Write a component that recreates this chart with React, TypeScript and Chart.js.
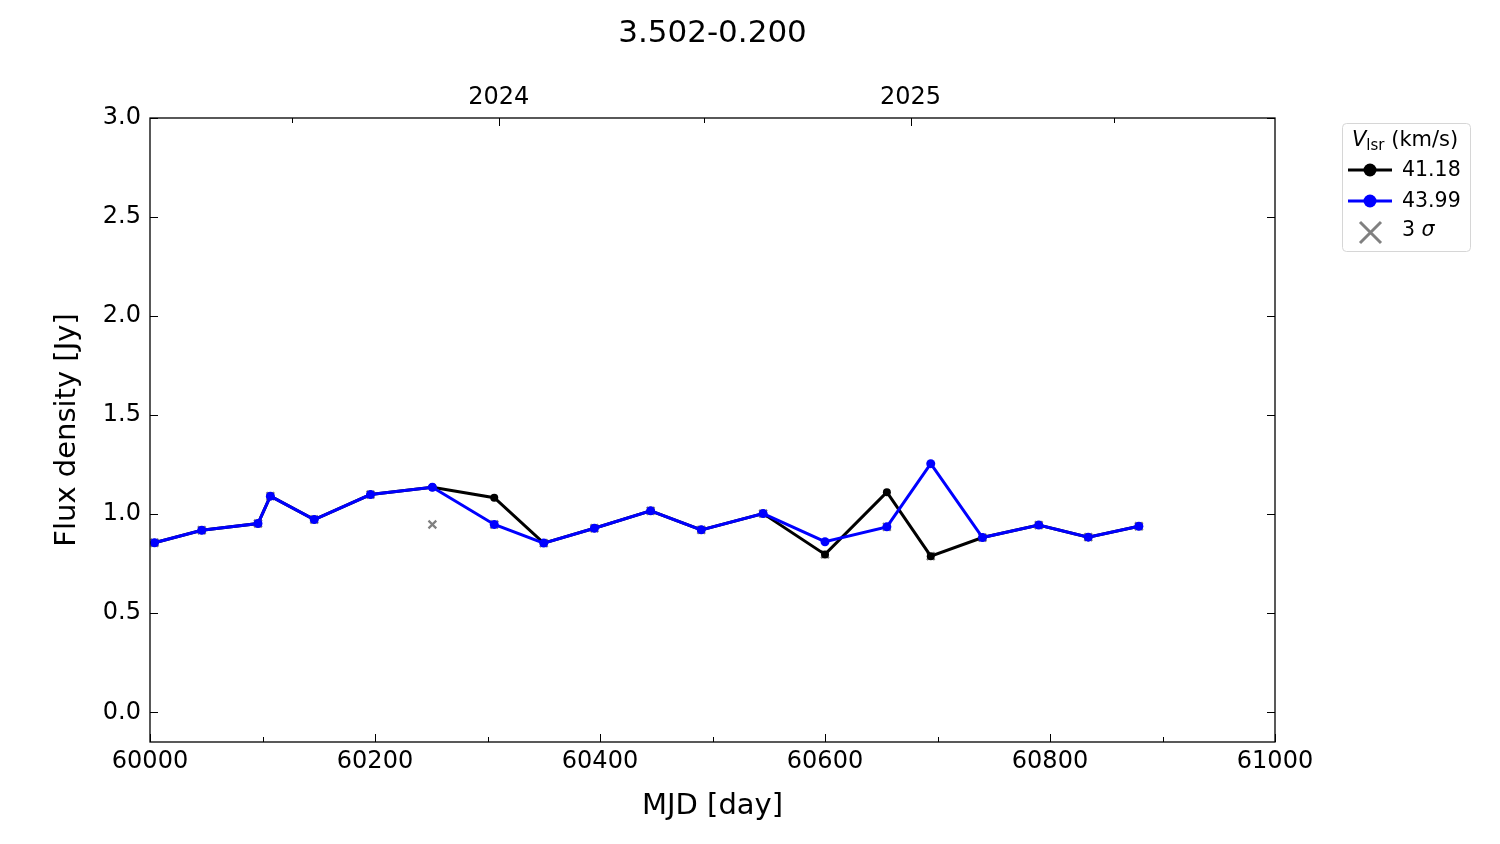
import { useEffect, useRef } from 'react';
import { Chart, registerables } from 'chart.js';

Chart.register(...registerables);

// epochs (MJD) and flux densities [Jy] per velocity channel
const mjd = [60004, 60046, 60096, 60107, 60146, 60196, 60251, 60306, 60350, 60395, 60445, 60490, 60545, 60600, 60655, 60694, 60740, 60790, 60834, 60879];
const flux4118 = [0.856, 0.919, 0.953, 1.091, 0.973, 1.099, 1.136, 1.083, 0.854, 0.929, 1.017, 0.921, 1.003, 0.797, 1.111, 0.788, 0.882, 0.945, 0.884, 0.939];
const flux4399 = [0.856, 0.919, 0.953, 1.091, 0.973, 1.099, 1.136, 0.948, 0.854, 0.929, 1.017, 0.921, 1.003, 0.861, 0.936, 1.255, 0.882, 0.945, 0.884, 0.939];
const sigma3 = [0.856, 0.919, 0.953, 1.091, 0.973, 1.099, 0.948, 0.948, 0.854, 0.929, 1.017, 0.921, 1.003, 0.797, 0.936, 0.788, 0.882, 0.945, 0.884, 0.939];

const xTicks = [60000, 60200, 60400, 60600, 60800, 61000];
const xMinorTicks = [60100, 60300, 60500, 60700, 60900];
const yTicks = [0, 0.5, 1.0, 1.5, 2.0, 2.5, 3.0];
const yearTicks = [60310, 60676];
const yearLabels = ['2024', '2025'];
const halfYearTicks = [60126, 60492, 60857];

const FONT = '"DejaVu Sans", sans-serif';

const pts = (ys: number[]) => mjd.map((x, i) => ({ x, y: ys[i] }));

const frame = {
  id: 'frame',
  afterDraw(chart: Chart) {
    const { ctx, chartArea: a, scales } = chart;
    const x = scales.x;
    const y = scales.y;
    ctx.save();
    ctx.strokeStyle = '#000';
    ctx.lineWidth = 1.3;
    ctx.strokeRect(a.left, a.top, a.right - a.left, a.bottom - a.top);

    ctx.lineWidth = 1;
    ctx.beginPath();
    xTicks.forEach((v) => {
      const px = Math.round(x.getPixelForValue(v)) + 0.5;
      ctx.moveTo(px, a.bottom);
      ctx.lineTo(px, a.bottom - 8);
    });
    xMinorTicks.forEach((v) => {
      const px = Math.round(x.getPixelForValue(v)) + 0.5;
      ctx.moveTo(px, a.bottom);
      ctx.lineTo(px, a.bottom - 5);
    });
    yearTicks.forEach((v) => {
      const px = Math.round(x.getPixelForValue(v)) + 0.5;
      ctx.moveTo(px, a.top);
      ctx.lineTo(px, a.top + 8);
    });
    halfYearTicks.forEach((v) => {
      const px = Math.round(x.getPixelForValue(v)) + 0.5;
      ctx.moveTo(px, a.top);
      ctx.lineTo(px, a.top + 5);
    });
    yTicks.forEach((v) => {
      const py = Math.round(y.getPixelForValue(v)) + 0.5;
      ctx.moveTo(a.left, py);
      ctx.lineTo(a.left + 8, py);
      ctx.moveTo(a.right, py);
      ctx.lineTo(a.right - 8, py);
    });
    ctx.stroke();

    // titles
    ctx.fillStyle = '#000';
    ctx.textAlign = 'center';
    ctx.textBaseline = 'middle';
    const cx = (a.left + a.right) / 2;
    ctx.font = `31px ${FONT}`;
    ctx.fillText('3.502-0.200', cx, 34);
    ctx.font = `29px ${FONT}`;
    ctx.fillText('MJD [day]', cx, 806);
    ctx.save();
    ctx.translate(67, (a.top + a.bottom) / 2);
    ctx.rotate(-Math.PI / 2);
    ctx.fillText('Flux density [Jy]', 0, 0);
    ctx.restore();

    // legend
    const lx = 1342;
    const ly = 123;
    ctx.beginPath();
    ctx.roundRect(lx + 0.5, ly + 0.5, 128, 128, 4);
    ctx.fillStyle = 'rgba(255,255,255,0.8)';
    ctx.fill();
    ctx.strokeStyle = '#d6d6d6';
    ctx.lineWidth = 1;
    ctx.stroke();

    ctx.fillStyle = '#000';
    ctx.textAlign = 'left';
    ctx.textBaseline = 'alphabetic';
    let tx = 1352;
    ctx.font = `italic 21px ${FONT}`;
    ctx.fillText('V', tx, 146);
    tx += ctx.measureText('V').width;
    ctx.font = `15px ${FONT}`;
    ctx.fillText('lsr', tx, 150);
    tx += ctx.measureText('lsr').width;
    ctx.font = `21px ${FONT}`;
    ctx.fillText(' (km/s)', tx, 146);

    const rows: [string, number][] = [['#000000', 170], ['#0000ff', 201]];
    rows.forEach(([c, ry], i) => {
      ctx.strokeStyle = c;
      ctx.lineWidth = 3;
      ctx.beginPath();
      ctx.moveTo(1348, ry);
      ctx.lineTo(1392, ry);
      ctx.stroke();
      ctx.fillStyle = c;
      ctx.beginPath();
      ctx.arc(1370, ry, 6.5, 0, Math.PI * 2);
      ctx.fill();
      ctx.fillStyle = '#000';
      ctx.textBaseline = 'middle';
      ctx.font = `20.5px ${FONT}`;
      ctx.fillText(i === 0 ? '41.18' : '43.99', 1402, ry + 1);
    });
    ctx.strokeStyle = '#808080';
    ctx.lineWidth = 3;
    ctx.beginPath();
    ctx.moveTo(1360, 222);
    ctx.lineTo(1381, 243);
    ctx.moveTo(1381, 222);
    ctx.lineTo(1360, 243);
    ctx.stroke();
    ctx.fillStyle = '#000';
    ctx.font = `20.5px ${FONT}`;
    ctx.fillText('3 ', 1402, 231);
    const w3 = ctx.measureText('3 ').width;
    ctx.font = `italic 20.5px ${FONT}`;
    ctx.fillText('σ', 1402 + w3, 231);
    ctx.restore();
  },
};

export default function App() {
  const canvasRef = useRef<HTMLCanvasElement>(null);
  const chartRef = useRef<Chart | null>(null);

  useEffect(() => {
    document.body.style.margin = '0';
    if (!canvasRef.current) return;
    chartRef.current?.destroy();

    const tickFont = { family: FONT, size: 24 };

    chartRef.current = new Chart(canvasRef.current, {
      type: 'line',
      data: {
        datasets: [
          {
            label: '43.99',
            data: pts(flux4399),
            borderColor: '#0000ff',
            backgroundColor: '#0000ff',
            borderWidth: 3,
            pointRadius: 4.5,
            pointBorderWidth: 0,
            order: 1,
          },
          {
            label: '41.18',
            data: pts(flux4118),
            borderColor: '#000000',
            backgroundColor: '#000000',
            borderWidth: 3,
            pointRadius: 4,
            pointBorderWidth: 0,
            order: 2,
          },
          {
            label: '3 σ',
            data: pts(sigma3),
            showLine: false,
            pointStyle: 'crossRot',
            pointRadius: 5.5,
            borderColor: '#808080',
            borderWidth: 2.2,
            order: 3,
          },
        ],
      },
      options: {
        responsive: true,
        maintainAspectRatio: false,
        animation: false,
        layout: { padding: { left: 0, right: 225, top: 0, bottom: 0 } },
        plugins: {
          legend: { display: false },
          title: { display: false },
          tooltip: { enabled: false },
        },
        scales: {
          x: {
            type: 'linear',
            position: 'bottom',
            min: 60000,
            max: 61000,
            grid: { display: false },
            border: { display: false },
            afterBuildTicks: (s) => {
              s.ticks = xTicks.map((value) => ({ value }));
            },
            afterFit: (s) => {
              s.height = 102;
            },
            ticks: {
              font: tickFont,
              color: '#000',
              padding: -3,
              maxRotation: 0,
              autoSkip: false,
              callback: (v) => String(v),
            },
          },
          x2: {
            type: 'linear',
            position: 'top',
            min: 60000,
            max: 61000,
            grid: { display: false },
            border: { display: false },
            afterBuildTicks: (s) => {
              s.ticks = yearTicks.map((value) => ({ value }));
            },
            afterFit: (s) => {
              s.height = 118;
            },
            ticks: {
              font: tickFont,
              color: '#000',
              padding: -2,
              maxRotation: 0,
              autoSkip: false,
              callback: (v) => yearLabels[yearTicks.indexOf(Number(v))] ?? '',
            },
          },
          y: {
            type: 'linear',
            min: -0.15,
            max: 3.0,
            grid: { display: false },
            border: { display: false },
            afterBuildTicks: (s) => {
              s.ticks = yTicks.map((value) => ({ value }));
            },
            afterFit: (s) => {
              s.width = 150;
            },
            ticks: {
              font: tickFont,
              color: '#000',
              padding: 1,
              autoSkip: false,
              callback: (v) => Number(v).toFixed(1),
            },
          },
        },
      },
      plugins: [frame],
    });

    return () => {
      chartRef.current?.destroy();
      chartRef.current = null;
    };
  }, []);

  return (
    <div style={{ width: 1500, height: 844, position: 'relative' }}>
      <canvas ref={canvasRef} />
    </div>
  );
}
